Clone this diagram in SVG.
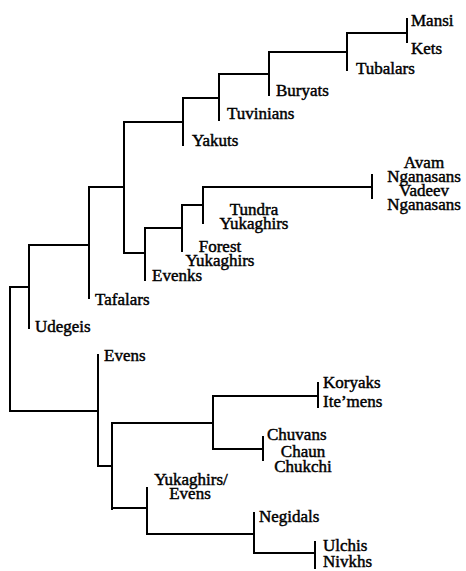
<svg xmlns="http://www.w3.org/2000/svg" width="466" height="571" viewBox="0 0 466 571">
<style>
.e{fill:none;stroke:#000;stroke-width:2;stroke-linecap:square}
text{font-family:"Liberation Serif","Times New Roman",serif;font-size:17px;fill:#000;stroke:#000;stroke-width:0.45}
.m{text-anchor:middle}
</style>
<rect width="466" height="571" fill="#fff"/>
<g id="connectors">
<path class="e" d="M10,287V411M10,287H29M10,411H98"/>
<path class="e" d="M29,245V328M29,245H89"/>
<path class="e" d="M89,187V298M89,187H124"/>
<path class="e" d="M124,122V253M124,122H183M124,253H145"/>
<path class="e" d="M183,98V145M183,98H219"/>
<path class="e" d="M219,74V120M219,74H269"/>
<path class="e" d="M269,52V95M269,52H347"/>
<path class="e" d="M347,33V70M347,33H407"/>
<path class="e" d="M407,19V42"/>
<path class="e" d="M145,228V280M145,228H182"/>
<path class="e" d="M182,205V251M182,205H203"/>
<path class="e" d="M203,187V223M203,187H372"/>
<path class="e" d="M372,175V198"/>
<path class="e" d="M98,355V466H112"/>
<path class="e" d="M112,423V509M112,423H213M112,508H147"/>
<path class="e" d="M213,396V449M213,396H318M213,449H263"/>
<path class="e" d="M318,383V407"/>
<path class="e" d="M263,437V460"/>
<path class="e" d="M147,488V534H254"/>
<path class="e" d="M254,513V553H315"/>
<path class="e" d="M315,542V568"/>
</g>
<g id="mansi"><text x="411" y="26">Mansi</text></g>
<g id="kets"><text x="411" y="54">Kets</text></g>
<g id="tubalars"><text x="356" y="74">Tubalars</text></g>
<g id="buryats"><text x="276" y="96">Buryats</text></g>
<g id="tuvinians"><text x="227" y="119">Tuvinians</text></g>
<g id="yakuts"><text x="192" y="146">Yakuts</text></g>
<g id="avam-nganasans"><text class="m" x="424" y="168">Avam</text><text class="m" x="424" y="182">Nganasans</text></g>
<g id="vadeev-nganasans"><text class="m" x="424" y="196">Vadeev</text><text class="m" x="424" y="210">Nganasans</text></g>
<g id="tundra-yukaghirs"><text class="m" x="254" y="215">Tundra</text><text class="m" x="254" y="229">Yukaghirs</text></g>
<g id="forest-yukaghirs"><text class="m" x="220" y="252">Forest</text><text class="m" x="220" y="266">Yukaghirs</text></g>
<g id="evenks"><text x="152" y="281">Evenks</text></g>
<g id="tafalars"><text x="95" y="305">Tafalars</text></g>
<g id="udegeis"><text x="35" y="332">Udegeis</text></g>
<g id="evens"><text x="104" y="361">Evens</text></g>
<g id="koryaks"><text x="323" y="388">Koryaks</text></g>
<g id="itemens"><text x="323" y="407">Ite’mens</text></g>
<g id="chuvans"><text x="267" y="440">Chuvans</text></g>
<g id="chaun-chukchi"><text class="m" x="303" y="457">Chaun</text><text class="m" x="303" y="472">Chukchi</text></g>
<g id="yukaghirs-evens"><text class="m" x="191" y="485">Yukaghirs/</text><text class="m" x="190" y="499">Evens</text></g>
<g id="negidals"><text x="259" y="522">Negidals</text></g>
<g id="ulchis"><text x="323" y="551">Ulchis</text></g>
<g id="nivkhs"><text x="323" y="567">Nivkhs</text></g>
</svg>
